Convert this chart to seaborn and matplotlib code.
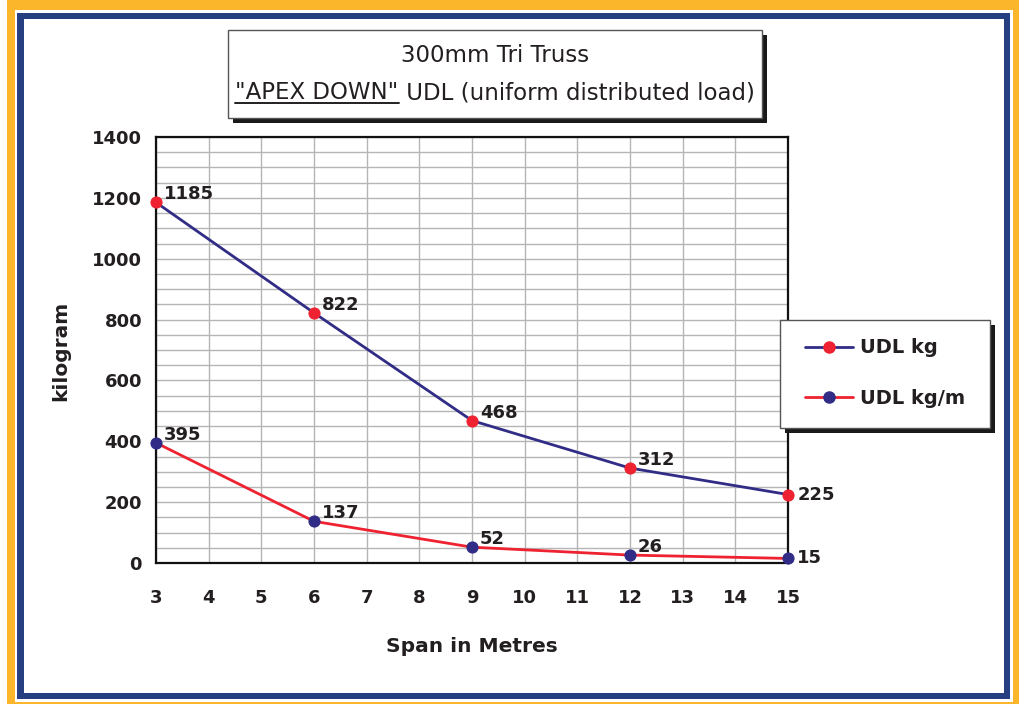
import numpy as np
import pandas as pd
import matplotlib
matplotlib.use("Agg")
import matplotlib.pyplot as plt
import seaborn as sns
from matplotlib.patches import Rectangle
from matplotlib.lines import Line2D
from matplotlib.ticker import MultipleLocator

# data
span = [3, 6, 9, 12, 15]
udl_kg = [1185, 822, 468, 312, 225]
udl_kg_m = [395, 137, 52, 26, 15]
y_ticks = [0, 200, 400, 600, 800, 1000, 1200, 1400]
x_ticks = list(range(3, 16))

NAVY = "#312C86"
RED = "#EE2230"
YELLOW = "#FBB62B"
FRAME_BLUE = "#253F80"
INK = "#231F20"

W, H = 1020, 704


def fx(px):
    return px / W


def fy(py):
    return 1 - py / H


def box(fig, x0, y0, x1, y1, **kw):
    r = Rectangle((fx(x0), fy(y1)), (x1 - x0) / W, (y1 - y0) / H,
                  transform=fig.transFigure, **kw)
    fig.patches.append(r)
    return r


sns.set_theme(style="white")
plt.rcParams["font.family"] = ["DejaVu Sans"]
plt.rcParams["text.color"] = INK

fig = plt.figure(figsize=(10.2, 7.04), dpi=100)

# page frame: yellow outer, blue inner
box(fig, 7, 0, 1020, 704, facecolor=YELLOW, edgecolor="none", zorder=-20)
box(fig, 15, 10, 1013, 702, facecolor="white", edgecolor="none", zorder=-19)
box(fig, 17, 13, 1010, 699, facecolor=FRAME_BLUE, edgecolor="none", zorder=-18)
box(fig, 24, 19, 1004, 693, facecolor="white", edgecolor="none", zorder=-17)

ax = fig.add_axes([fx(156), fy(563), (788 - 156) / W, (563 - 137) / H])
ax.set_facecolor("white")

sns.lineplot(x=span, y=udl_kg, ax=ax, color=NAVY, lw=2, marker="o",
             markersize=8, markerfacecolor=RED, markeredgecolor=RED,
             clip_on=False, zorder=5)
sns.lineplot(x=span, y=udl_kg_m, ax=ax, color=RED, lw=2, marker="o",
             markersize=8, markerfacecolor=NAVY, markeredgecolor=NAVY,
             clip_on=False, zorder=5)

ax.set_xlim(3, 15)
ax.set_ylim(0, 1400)
ax.set_xticks(x_ticks)
ax.set_yticks(y_ticks)
ax.yaxis.set_minor_locator(MultipleLocator(50))
ax.grid(which="major", axis="both", color="#B5B5B5", lw=1)
ax.grid(which="minor", axis="y", color="#B5B5B5", lw=1)
ax.set_axisbelow(True)
for s in ax.spines.values():
    s.set_visible(True)
    s.set_color("#111111")
    s.set_linewidth(1.6)
ax.tick_params(axis="both", which="major", direction="out", length=5,
               width=1.2, color="#111111", labelsize=13, labelcolor=INK)
ax.tick_params(axis="x", pad=14)
ax.tick_params(axis="y", pad=5)
ax.tick_params(axis="y", which="minor", length=0)
for lab in ax.get_xticklabels() + ax.get_yticklabels():
    lab.set_fontweight("bold")
ax.set_xlabel("")
ax.set_ylabel("")

# value labels
for i, (x, v) in enumerate(zip(span, udl_kg)):
    off = (10, 0) if i == len(span) - 1 else (8, 8)
    ax.annotate(str(v), (x, v), xytext=off, textcoords="offset pixels",
                ha="left", va="center", fontsize=13, fontweight="bold",
                color=INK, zorder=6)
for i, (x, v) in enumerate(zip(span, udl_kg_m)):
    off = (9, 0) if i == len(span) - 1 else (8, 8)
    ax.annotate(str(v), (x, v), xytext=off, textcoords="offset pixels",
                ha="left", va="center", fontsize=13, fontweight="bold",
                color=INK, zorder=6)

fig.text(fx(472), fy(646), "Span in Metres", ha="center", va="center",
         fontsize=14.5, fontweight="bold")
fig.text(fx(61), fy(351), "kilogram", ha="center", va="center",
         rotation=90, fontsize=14.5, fontweight="bold")

# title box with shadow
box(fig, 233, 35, 767, 123, facecolor="#1A1A1A", edgecolor="none", zorder=1)
box(fig, 228, 30, 762, 118, facecolor="white", edgecolor="#555555",
    lw=1, zorder=2)
fig.text(fx(495), fy(55), "300mm Tri Truss", ha="center", va="center",
         fontsize=16.5, zorder=3)

renderer = fig.canvas.get_renderer()
t1 = fig.text(0, fy(99), '"APEX DOWN"', ha="left", va="baseline",
              fontsize=16.5, zorder=3)
t2 = fig.text(0, fy(99), " UDL (uniform distributed load)", ha="left",
              va="baseline", fontsize=16.5, zorder=3)
w1 = t1.get_window_extent(renderer).width
w2 = t2.get_window_extent(renderer).width
start = 495 - (w1 + w2) / 2
t1.set_x(fx(start))
t2.set_x(fx(start + w1))
fig.add_artist(Line2D([fx(start), fx(start + w1)], [fy(103), fy(103)],
                      transform=fig.transFigure, color=INK, lw=1.4, zorder=3))

# legend box with shadow
box(fig, 785, 325, 995, 433, facecolor="#1A1A1A", edgecolor="none", zorder=1)
box(fig, 780, 320, 990, 428, facecolor="white", edgecolor="#555555",
    lw=1, zorder=2)
handles = [
    Line2D([], [], color=NAVY, lw=2, marker="o", markersize=8,
           markerfacecolor=RED, markeredgecolor=RED),
    Line2D([], [], color=RED, lw=2, marker="o", markersize=8,
           markerfacecolor=NAVY, markeredgecolor=NAVY),
]
leg = fig.legend(handles, ["UDL kg", "UDL kg/m"], loc="center left",
                 bbox_to_anchor=(fx(795), fy(373)), frameon=False,
                 handlelength=2.5, handletextpad=0.35, labelspacing=1.6,
                 borderpad=0, prop={"size": 14, "weight": "bold"})
leg.set_zorder(4)
for t in leg.get_texts():
    t.set_color(INK)

fig.savefig("out.png", dpi=100)
